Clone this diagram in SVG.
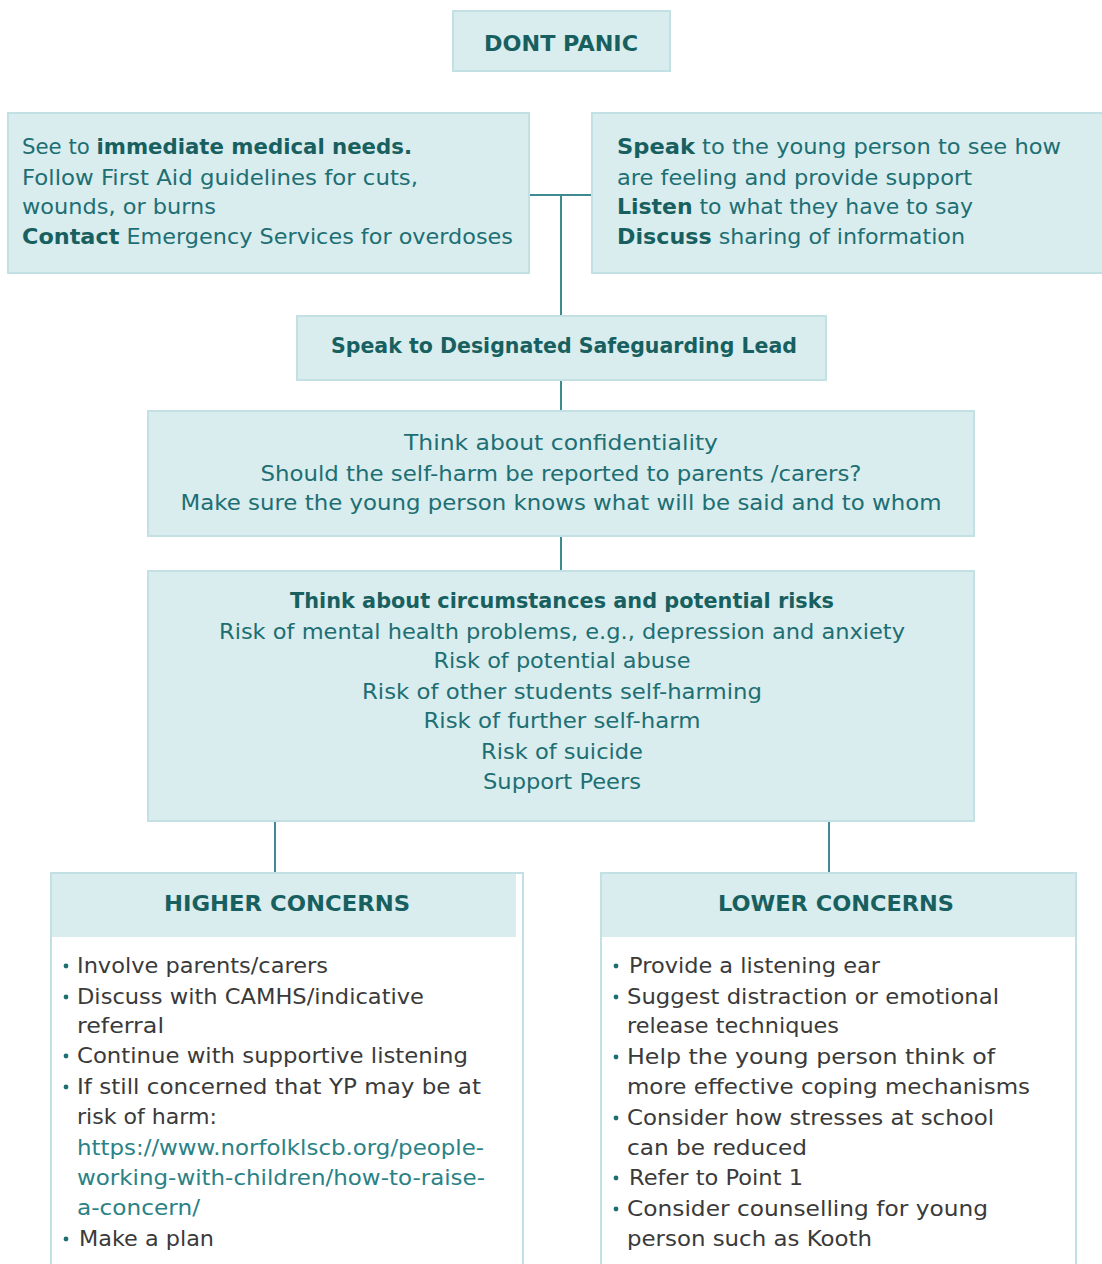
<svg xmlns="http://www.w3.org/2000/svg" width="1102" height="1264" viewBox="0 0 1102 1264">
<style>
.box{fill:#d9ecee;stroke:#c3e1e4;stroke-width:2}
.panel{fill:#ffffff;stroke:#c3e1e4;stroke-width:2}
.hdr{fill:#d9ecee}
.t{font-family:"DejaVu Sans","Liberation Sans",Arial,sans-serif;font-size:21px;fill:#1d6f73}
.b{font-weight:bold;fill:#17605f}
.c{text-anchor:middle}
.li{font-family:"DejaVu Sans","Liberation Sans",Arial,sans-serif;font-size:21px;fill:#3a3a3a}
.lk{fill:#2a8286}
.dot{fill:#1d6f73}
.con{stroke:#3f8a8e;stroke-width:2;fill:none}
</style>
<rect width="1102" height="1264" fill="#ffffff"/>
<g id="connectors">
<path class="con" d="M529 195 H592 M561 195 V316 M561 380 V411 M561 536 V571 M275 821 V873 M829 821 V873"/>
</g>
<g id="dont-panic">
<rect class="box" x="453" y="11" width="217" height="60"/>
<text class="t b c" x="561" y="51" font-size="22" textLength="154" lengthAdjust="spacingAndGlyphs">DONT PANIC</text>
</g>
<g id="medical">
<rect class="box" x="8" y="113" width="521" height="160"/>
<text class="t" x="22" y="154" textLength="390" lengthAdjust="spacingAndGlyphs">See to <tspan class="b">immediate medical needs.</tspan></text>
<text class="t" x="22" y="185" textLength="396" lengthAdjust="spacingAndGlyphs">Follow First Aid guidelines for cuts,</text>
<text class="t" x="22" y="214" textLength="194" lengthAdjust="spacingAndGlyphs">wounds, or burns</text>
<text class="t" x="22" y="244" textLength="491" lengthAdjust="spacingAndGlyphs"><tspan class="b">Contact</tspan> Emergency Services for overdoses</text>
</g>
<g id="speak-young-person">
<rect class="box" x="592" y="113" width="515" height="160"/>
<text class="t" x="617" y="154" textLength="444" lengthAdjust="spacingAndGlyphs"><tspan class="b">Speak</tspan> to the young person to see how</text>
<text class="t" x="617" y="185" textLength="355" lengthAdjust="spacingAndGlyphs">are feeling and provide support</text>
<text class="t" x="617" y="214" textLength="356" lengthAdjust="spacingAndGlyphs"><tspan class="b">Listen</tspan> to what they have to say</text>
<text class="t" x="617" y="244" textLength="348" lengthAdjust="spacingAndGlyphs"><tspan class="b">Discuss</tspan> sharing of information</text>
</g>
<g id="dsl">
<rect class="box" x="297" y="316" width="529" height="64"/>
<text class="t b c" x="564" y="353" font-size="22" textLength="466" lengthAdjust="spacingAndGlyphs">Speak to Designated Safeguarding Lead</text>
</g>
<g id="confidentiality">
<rect class="box" x="148" y="411" width="826" height="125"/>
<text class="t c" x="561" y="450" textLength="314" lengthAdjust="spacingAndGlyphs">Think about confidentiality</text>
<text class="t c" x="561" y="481" textLength="601" lengthAdjust="spacingAndGlyphs">Should the self-harm be reported to parents /carers?</text>
<text class="t c" x="561" y="510" textLength="761" lengthAdjust="spacingAndGlyphs">Make sure the young person knows what will be said and to whom</text>
</g>
<g id="risks">
<rect class="box" x="148" y="571" width="826" height="250"/>
<text class="t b c" x="562" y="608" font-size="22" textLength="544" lengthAdjust="spacingAndGlyphs">Think about circumstances and potential risks</text>
<text class="t c" x="562" y="639" textLength="686" lengthAdjust="spacingAndGlyphs">Risk of mental health problems, e.g., depression and anxiety</text>
<text class="t c" x="562" y="668" textLength="257" lengthAdjust="spacingAndGlyphs">Risk of potential abuse</text>
<text class="t c" x="562" y="699" textLength="400" lengthAdjust="spacingAndGlyphs">Risk of other students self-harming</text>
<text class="t c" x="562" y="728" textLength="277" lengthAdjust="spacingAndGlyphs">Risk of further self-harm</text>
<text class="t c" x="562" y="759" textLength="162" lengthAdjust="spacingAndGlyphs">Risk of suicide</text>
<text class="t c" x="562" y="789" textLength="158" lengthAdjust="spacingAndGlyphs">Support Peers</text>
</g>
<g id="higher-concerns">
<rect class="panel" x="51" y="873" width="472" height="400"/>
<rect class="hdr" x="52" y="874" width="464" height="63"/>
<text class="t b c" x="287" y="911" font-size="22" textLength="246" lengthAdjust="spacingAndGlyphs">HIGHER CONCERNS</text>
<circle class="dot" cx="66" cy="966" r="2.4"/>
<text class="li" x="77" y="973" textLength="251" lengthAdjust="spacingAndGlyphs">Involve  parents/carers</text>
<circle class="dot" cx="66" cy="997" r="2.4"/>
<text class="li" x="77" y="1004" textLength="347" lengthAdjust="spacingAndGlyphs">Discuss with CAMHS/indicative</text>
<text class="li" x="77" y="1033" textLength="87" lengthAdjust="spacingAndGlyphs">referral</text>
<circle class="dot" cx="66" cy="1056" r="2.4"/>
<text class="li" x="77" y="1063" textLength="391" lengthAdjust="spacingAndGlyphs">Continue with supportive listening</text>
<circle class="dot" cx="66" cy="1087" r="2.4"/>
<text class="li" x="77" y="1094" textLength="404" lengthAdjust="spacingAndGlyphs">If still concerned that YP may be at</text>
<text class="li" x="77" y="1124" textLength="140" lengthAdjust="spacingAndGlyphs">risk of harm:</text>
<text class="li lk" x="77" y="1155" textLength="407" lengthAdjust="spacingAndGlyphs">https://www.norfolklscb.org/people-</text>
<text class="li lk" x="77" y="1185" textLength="408" lengthAdjust="spacingAndGlyphs">working-with-children/how-to-raise-</text>
<text class="li lk" x="77" y="1215" textLength="123" lengthAdjust="spacingAndGlyphs">a-concern/</text>
<circle class="dot" cx="66" cy="1239" r="2.4"/>
<text class="li" x="79" y="1246" textLength="135" lengthAdjust="spacingAndGlyphs">Make a plan</text>
</g>
<g id="lower-concerns">
<rect class="panel" x="601" y="873" width="475" height="400"/>
<rect class="hdr" x="602" y="874" width="473" height="63"/>
<text class="t b c" x="836" y="911" font-size="22" textLength="236" lengthAdjust="spacingAndGlyphs">LOWER  CONCERNS</text>
<circle class="dot" cx="616" cy="966" r="2.4"/>
<text class="li" x="629" y="973" textLength="251" lengthAdjust="spacingAndGlyphs">Provide a listening ear</text>
<circle class="dot" cx="616" cy="997" r="2.4"/>
<text class="li" x="627" y="1004" textLength="372" lengthAdjust="spacingAndGlyphs">Suggest distraction or emotional</text>
<text class="li" x="627" y="1033" textLength="212" lengthAdjust="spacingAndGlyphs">release techniques</text>
<circle class="dot" cx="616" cy="1057" r="2.4"/>
<text class="li" x="627" y="1064" textLength="368" lengthAdjust="spacingAndGlyphs">Help the young person think of</text>
<text class="li" x="627" y="1094" textLength="403" lengthAdjust="spacingAndGlyphs">more effective coping mechanisms</text>
<circle class="dot" cx="616" cy="1118" r="2.4"/>
<text class="li" x="627" y="1125" textLength="367" lengthAdjust="spacingAndGlyphs">Consider how stresses at school</text>
<text class="li" x="627" y="1155" textLength="180" lengthAdjust="spacingAndGlyphs">can be reduced</text>
<circle class="dot" cx="616" cy="1178" r="2.4"/>
<text class="li" x="629" y="1185" textLength="174" lengthAdjust="spacingAndGlyphs">Refer to Point 1</text>
<circle class="dot" cx="616" cy="1209" r="2.4"/>
<text class="li" x="627" y="1216" textLength="361" lengthAdjust="spacingAndGlyphs">Consider counselling for young</text>
<text class="li" x="627" y="1246" textLength="245" lengthAdjust="spacingAndGlyphs">person such as Kooth</text>
</g>
</svg>
